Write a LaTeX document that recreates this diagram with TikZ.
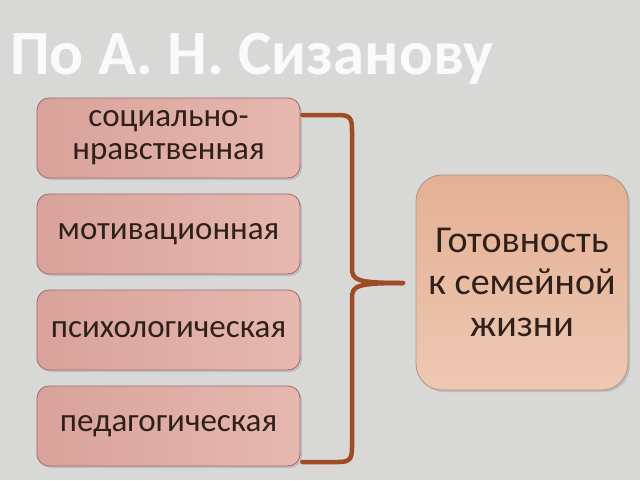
\documentclass[tikz,border=0pt]{standalone}
\usepackage{fontspec}
\setmainfont{Carlito}
\usetikzlibrary{shadows}
\definecolor{bg}{HTML}{D8D8D6}
\definecolor{pinkA}{HTML}{D9A29B}
\definecolor{pinkB}{HTML}{E6B8AF}
\definecolor{pinkEdge}{HTML}{9C6E66}
\definecolor{peachA}{HTML}{E4B094}
\definecolor{peachB}{HTML}{EEC8B2}
\definecolor{peachEdge}{HTML}{A89486}
\definecolor{brace}{HTML}{9E4B26}
\definecolor{ink}{HTML}{2E211B}
\tikzset{
  leftbox/.style={draw=pinkEdge, line width=0.8pt, rounded corners=12pt,
    left color=pinkA, right color=pinkB, text=ink, align=center,
    minimum width=263pt, minimum height=80pt, inner sep=0pt,
    font=\fontsize{33}{33}\selectfont,
    drop shadow={shadow xshift=2pt, shadow yshift=-2pt, fill=black!35, opacity=0.5}},
  rightbox/.style={draw=peachEdge, line width=0.8pt, rounded corners=26pt,
    top color=peachA, bottom color=peachB, text=ink, align=center,
    minimum width=212pt, minimum height=215pt, inner sep=0pt,
    font=\fontsize{38}{42}\selectfont,
    drop shadow={shadow xshift=2pt, shadow yshift=-2pt, fill=black!35, opacity=0.5}},
  bracestyle/.style={draw=brace, line width=4.5pt, line cap=round, line join=round}
}
\begin{document}
\begin{tikzpicture}[x=1pt,y=-1pt]
\fill[bg] (0,0) rectangle (640,480);
\useasboundingbox (0,0) rectangle (640,480);
\node[anchor=base west, text=white!96!gray, font=\fontsize{63}{63}\selectfont\bfseries, inner sep=0pt] (title) at (10,74) {По А. Н. Сизанову};
\node[leftbox] (b1) at (168.5,138) {социально-\\нравственная};
\node[leftbox] (b2) at (168.5,234) {мотивационная};
\node[leftbox] (b3) at (168.5,330) {психологическая};
\node[leftbox] (b4) at (168.5,426) {педагогическая};
\node[rightbox] (r) at (522,282.5) {Готовность\\к семейной\\жизни};
\coordinate (top) at ([xshift=2pt,yshift=23pt]b1.east);
\coordinate (bot) at ([xshift=2pt,yshift=-36pt]b4.east);
\coordinate (tip) at (403,283);
\draw[bracestyle] (top) -- (338,115) .. controls (350,115) and (352,118) .. (352,130)
  -- (352,268) .. controls (352,280) and (356,283) .. (tip);
\draw[bracestyle] (bot) -- (338,462) .. controls (350,462) and (352,459) .. (352,447)
  -- (352,298) .. controls (352,286) and (356,283) .. (tip);
\end{tikzpicture}
\end{document}
